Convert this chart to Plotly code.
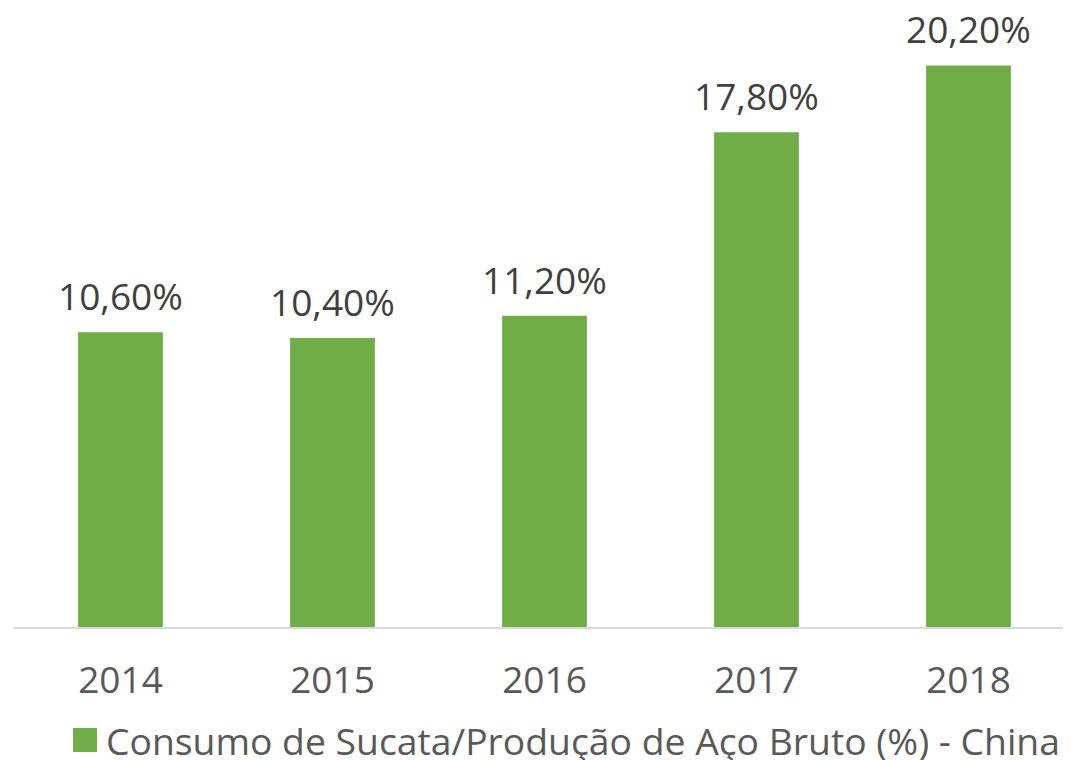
import plotly.graph_objects as go

years = ["2014", "2015", "2016", "2017", "2018"]
values = [10.6, 10.4, 11.2, 17.8, 20.2]
labels = ["10,60%", "10,40%", "11,20%", "17,80%", "20,20%"]
series_name = "Consumo de Sucata/Produção de Aço Bruto (%) - China"

FONT = "Open Sans"
GREEN = "#70AD47"
xpos = list(range(len(years)))

# page has an 8px body margin; work in page pixels and convert
OFF = 8
FIG_W, FIG_H = 1071 - OFF, 760 - OFF
L, W = 14 - OFF, 1057          # plot left / width (figure px), axis line extent
B, H = 627 - OFF, 617          # plot bottom / height (figure px)
# x range chosen so that category spacing is ~212 px and first bar centred at ~119.5 px
X0 = -0.5 + (119.5 - 14 - 106) / 212
X1 = X0 + W / 212

fig = go.Figure()
fig.add_trace(go.Bar(
    x=xpos, y=values, name=series_name,
    marker=dict(color=GREEN, line=dict(width=0)),
    width=0.4, showlegend=False,
))
for x, y, t in zip(xpos, values, labels):
    fig.add_annotation(x=x, y=y, xref="x", yref="y", text=t, showarrow=False,
                       yanchor="bottom", yshift=9,
                       font=dict(family=FONT, size=37, color="#404040"))

def px_x(p): return (p - OFF - L) / W
def px_y(p): return (B - (p - OFF)) / H
fig.add_shape(type="rect", xref="paper", yref="paper",
              x0=px_x(73), x1=px_x(97), y0=px_y(752), y1=px_y(728),
              fillcolor=GREEN, line=dict(width=0))
fig.add_annotation(xref="paper", yref="paper", x=px_x(104), y=px_y(740),
                   xanchor="left", yanchor="middle", showarrow=False,
                   text=series_name, font=dict(family=FONT, size=37.3, color="#595959"))

fig.update_layout(
    width=FIG_W, height=FIG_H,
    margin=dict(l=L, r=FIG_W - L - W, t=B - H, b=FIG_H - B),
    paper_bgcolor="white", plot_bgcolor="white",
    xaxis=dict(type="linear", range=[X0, X1], autorange=False,
               tickmode="array", tickvals=xpos, ticktext=years,
               showline=True, linecolor="#D9D9D9", linewidth=2, ticks="",
               ticklabelstandoff=20,
               tickfont=dict(family=FONT, size=37, color="#595959"),
               showgrid=False, zeroline=False),
    yaxis=dict(range=[0, H / 27.8], autorange=False, visible=False,
               showgrid=False, zeroline=False),
    showlegend=False,
)
fig.write_html("out.html")
